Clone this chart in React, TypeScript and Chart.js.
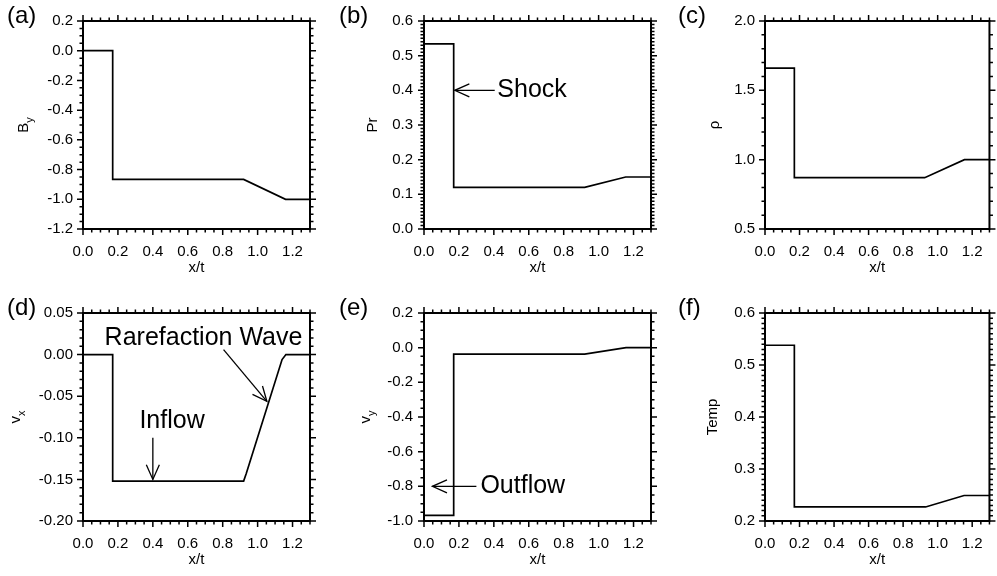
import React, { useEffect, useRef } from 'react';
import { Chart, registerables } from 'chart.js';

Chart.register(...registerables);

const FONT = '"Liberation Sans", Arial, Helvetica, sans-serif';

// ---------- data ----------
const X_RANGE = [0, 1.3];
const X_STEPS = [0.2, 0.05]; // major, minor

const byX = [0, 0.17, 0.17, 0.92, 1.16, 1.3];
const byY = [0, 0, -0.866, -0.866, -1.0, -1.0];
const byRange = [-1.2, 0.2];
const bySteps = [0.2, 0.05];

const prX = [0, 0.17, 0.17, 0.92, 1.155, 1.3];
const prY = [0.534, 0.534, 0.12, 0.12, 0.15, 0.15];
const prRange = [0, 0.6];
const prSteps = [0.1, 0.01];

const rhoX = [0, 0.17, 0.17, 0.925, 1.155, 1.3];
const rhoY = [1.66, 1.66, 0.87, 0.87, 1.0, 1.0];
const rhoRange = [0.5, 2.0];
const rhoSteps = [0.5, 0.1];

const vxX = [0, 0.17, 0.17, 0.92, 0.935, 1.14, 1.162, 1.3];
const vxY = [0, 0, -0.152, -0.152, -0.143, -0.006, 0, 0];
const vxRange = [-0.2, 0.05];
const vxSteps = [0.05, 0.01];

const vyX = [0, 0.17, 0.17, 0.92, 1.157, 1.3];
const vyY = [-0.968, -0.968, -0.037, -0.037, 0, 0];
const vyRange = [-1.0, 0.2];
const vySteps = [0.2, 0.05];

const tempX = [0, 0.17, 0.17, 0.93, 1.153, 1.3];
const tempY = [0.538, 0.538, 0.227, 0.227, 0.249, 0.249];
const tempRange = [0.2, 0.6];
const tempSteps = [0.1, 0.01];

// annotations: text, text anchor (x,y), alignment, arrow tail (x,y), arrow tip (x,y)
const shockNote = { text: 'Shock', tx: 0.42, ty: 0.4, align: 'left', fx: 0.405, fy: 0.4, px: 0.176, py: 0.4 };
const outflowNote = { text: 'Outflow', tx: 0.323, ty: -0.8, align: 'left', fx: 0.3, fy: -0.8, px: 0.048, py: -0.8 };
const inflowNote = { text: 'Inflow', tx: 0.51, ty: -0.08, align: 'center', fx: 0.4, fy: -0.1, px: 0.4, py: -0.15 };
const rarefNote = { text: 'Rarefaction Wave', tx: 0.69, ty: 0.0203, align: 'center', fx: 0.805, fy: 0.0059, px: 1.053, py: -0.0562 };

// ---------- layout ----------
const COLS = [
  { x0: 0, w: 332, left: 83, right: 310, labelX: 7 },
  { x0: 332, w: 334, left: 424, right: 651, labelX: 7 },
  { x0: 666, w: 331, left: 765, right: 992, labelX: 12 },
];
const ROWS = [
  { y0: 0, h: 290, top: 21, bottom: 229, labelY: 23 },
  { y0: 290, h: 286, top: 313, bottom: 521, labelY: 25 },
];

type Part = [string, boolean];

interface PanelDef {
  label: string;
  col: number;
  row: number;
  xs: number[];
  ys: number[];
  range: number[];
  steps: number[];
  decimals: number;
  title: Part[];
  titleBase: number; // distance from plot left to the baseline of the rotated title
  labelPad: number;
  notes: any[];
}

const PANELS: PanelDef[] = [
  { label: '(a)', col: 0, row: 0, xs: byX, ys: byY, range: byRange, steps: bySteps, decimals: 1, title: [['B', false], ['y', true]], titleBase: 55, labelPad: 10, notes: [] },
  { label: '(b)', col: 1, row: 0, xs: prX, ys: prY, range: prRange, steps: prSteps, decimals: 1, title: [['Pr', false]], titleBase: 47, labelPad: 11, notes: [shockNote] },
  { label: '(c)', col: 2, row: 0, xs: rhoX, ys: rhoY, range: rhoRange, steps: rhoSteps, decimals: 1, title: [['ρ', false]], titleBase: 46.5, labelPad: 10, notes: [] },
  { label: '(d)', col: 0, row: 1, xs: vxX, ys: vxY, range: vxRange, steps: vxSteps, decimals: 2, title: [['v', false], ['x', true]], titleBase: 63, labelPad: 10, notes: [inflowNote, rarefNote] },
  { label: '(e)', col: 1, row: 1, xs: vyX, ys: vyY, range: vyRange, steps: vySteps, decimals: 1, title: [['v', false], ['y', true]], titleBase: 54, labelPad: 11, notes: [outflowNote] },
  { label: '(f)', col: 2, row: 1, xs: tempX, ys: tempY, range: tempRange, steps: tempSteps, decimals: 1, title: [['Temp', false]], titleBase: 48, labelPad: 10, notes: [] },
];

function drawArrow(ctx: CanvasRenderingContext2D, x1: number, y1: number, x2: number, y2: number) {
  ctx.beginPath();
  ctx.moveTo(x1, y1);
  ctx.lineTo(x2, y2);
  ctx.stroke();
  const ang = Math.atan2(y1 - y2, x1 - x2);
  const L = 16;
  const spread = 0.42;
  ctx.beginPath();
  ctx.moveTo(x2 + L * Math.cos(ang + spread), y2 + L * Math.sin(ang + spread));
  ctx.lineTo(x2, y2);
  ctx.lineTo(x2 + L * Math.cos(ang - spread), y2 + L * Math.sin(ang - spread));
  ctx.stroke();
}

const framePlugin = {
  id: 'frame',
  afterDraw(chart: any, _args: any, opts: any) {
    const { ctx, chartArea: a, scales } = chart;
    const xs = scales.x;
    const ys = scales.y;
    ctx.save();
    ctx.strokeStyle = '#000';
    ctx.fillStyle = '#000';

    // tick marks on all four sides (outward)
    ctx.lineWidth = 1.5;
    const tickSet = (scale: any, min: number, max: number, major: number, minor: number, horiz: boolean) => {
      const n = Math.round((max - min) / minor);
      for (let i = 0; i <= n; i++) {
        const v = min + i * minor;
        const isMajor = Math.abs(v / major - Math.round(v / major)) < 1e-6;
        const len = isMajor ? 6 : 3.5;
        const p = scale.getPixelForValue(v);
        ctx.beginPath();
        if (horiz) {
          ctx.moveTo(p, a.bottom);
          ctx.lineTo(p, a.bottom + len);
          ctx.moveTo(p, a.top);
          ctx.lineTo(p, a.top - len);
        } else {
          ctx.moveTo(a.left, p);
          ctx.lineTo(a.left - len, p);
          ctx.moveTo(a.right, p);
          ctx.lineTo(a.right + len, p);
        }
        ctx.stroke();
      }
    };
    tickSet(xs, X_RANGE[0], X_RANGE[1], X_STEPS[0], X_STEPS[1], true);
    tickSet(ys, opts.range[0], opts.range[1], opts.steps[0], opts.steps[1], false);

    // frame
    ctx.lineWidth = 2;
    ctx.strokeRect(a.left, a.top, a.right - a.left, a.bottom - a.top);

    // x title
    ctx.font = `15px ${FONT}`;
    ctx.textAlign = 'center';
    ctx.textBaseline = 'middle';
    ctx.fillText('x/t', (a.left + a.right) / 2, a.bottom + 39);

    // y title (rotated, with subscript)
    const parts: Part[] = opts.title;
    const mainFont = `15px ${FONT}`;
    const subFont = `11px ${FONT}`;
    let total = 0;
    const widths = parts.map(([t, sub]) => {
      ctx.font = sub ? subFont : mainFont;
      const w = ctx.measureText(t).width;
      total += w;
      return w;
    });
    ctx.save();
    ctx.translate(a.left - opts.titleBase, (a.top + a.bottom) / 2);
    ctx.rotate(-Math.PI / 2);
    ctx.textAlign = 'left';
    ctx.textBaseline = 'alphabetic';
    let cx = -total / 2;
    parts.forEach(([t, sub], i) => {
      ctx.font = sub ? subFont : mainFont;
      ctx.fillText(t, cx, sub ? 4.5 : 0);
      cx += widths[i];
    });
    ctx.restore();

    // panel label
    ctx.font = `24px ${FONT}`;
    ctx.textAlign = 'left';
    ctx.textBaseline = 'alphabetic';
    ctx.fillText(opts.label, opts.labelX, opts.labelY);

    // annotations
    ctx.lineWidth = 1.3;
    opts.notes.forEach((n: any) => {
      drawArrow(ctx, xs.getPixelForValue(n.fx), ys.getPixelForValue(n.fy), xs.getPixelForValue(n.px), ys.getPixelForValue(n.py));
      ctx.font = `25px ${FONT}`;
      ctx.textAlign = n.align;
      ctx.textBaseline = 'middle';
      ctx.fillText(n.text, xs.getPixelForValue(n.tx), ys.getPixelForValue(n.ty));
    });
    ctx.restore();
  },
};

function Panel({ def }: { def: PanelDef }) {
  const ref = useRef<HTMLCanvasElement | null>(null);
  const col = COLS[def.col];
  const row = ROWS[def.row];

  useEffect(() => {
    if (!ref.current) return;
    const yAxisW = col.left - col.x0;
    const xAxisH = row.y0 + row.h - row.bottom;
    const fmt = (d: number) => (v: any) => {
      const s = Number(v).toFixed(d);
      return /^-0\.0*$/.test(s) ? s.slice(1) : s;
    };
    const chart = new Chart(ref.current, {
      type: 'line',
      data: {
        datasets: [
          {
            data: def.xs.map((x, i) => ({ x, y: def.ys[i] })),
            borderColor: '#000',
            borderWidth: 1.7,
            pointRadius: 0,
            fill: false,
            tension: 0,
          },
        ],
      },
      options: {
        animation: false,
        responsive: true,
        maintainAspectRatio: false,
        events: [],
        layout: {
          padding: { left: 0, top: row.top - row.y0, right: col.x0 + col.w - col.right, bottom: 0 },
        },
        plugins: {
          legend: { display: false },
          tooltip: { enabled: false },
          frame: {
            range: def.range,
            steps: def.steps,
            title: def.title,
            titleBase: def.titleBase,
            label: def.label,
            labelX: col.labelX,
            labelY: row.labelY,
            notes: def.notes,
          },
        } as any,
        scales: {
          x: {
            type: 'linear',
            min: X_RANGE[0],
            max: X_RANGE[1],
            afterFit: (s: any) => {
              s.height = xAxisH;
            },
            grid: { display: false, drawTicks: false },
            border: { display: false },
            ticks: {
              stepSize: X_STEPS[0],
              includeBounds: false,
              autoSkip: false,
              maxRotation: 0,
              padding: 14,
              color: '#000',
              font: { family: FONT, size: 15 },
              callback: fmt(1),
            },
          },
          y: {
            type: 'linear',
            min: def.range[0],
            max: def.range[1],
            afterFit: (s: any) => {
              s.width = yAxisW;
            },
            grid: { display: false, drawTicks: false },
            border: { display: false },
            ticks: {
              stepSize: def.steps[0],
              autoSkip: false,
              padding: def.labelPad,
              color: '#000',
              font: { family: FONT, size: 15 },
              callback: fmt(def.decimals),
            },
          },
        },
      } as any,
      plugins: [framePlugin],
    });
    return () => chart.destroy();
  }, []);

  return (
    <div style={{ position: 'absolute', left: col.x0, top: row.y0, width: col.w, height: row.h }}>
      <canvas ref={ref} style={{ display: 'block' }} />
    </div>
  );
}

export default function App() {
  return (
    <div style={{ position: 'fixed', left: 0, top: 0, width: 997, height: 576, background: '#fff', overflow: 'hidden' }}>
      {PANELS.map((p) => (
        <Panel key={p.label} def={p} />
      ))}
    </div>
  );
}
